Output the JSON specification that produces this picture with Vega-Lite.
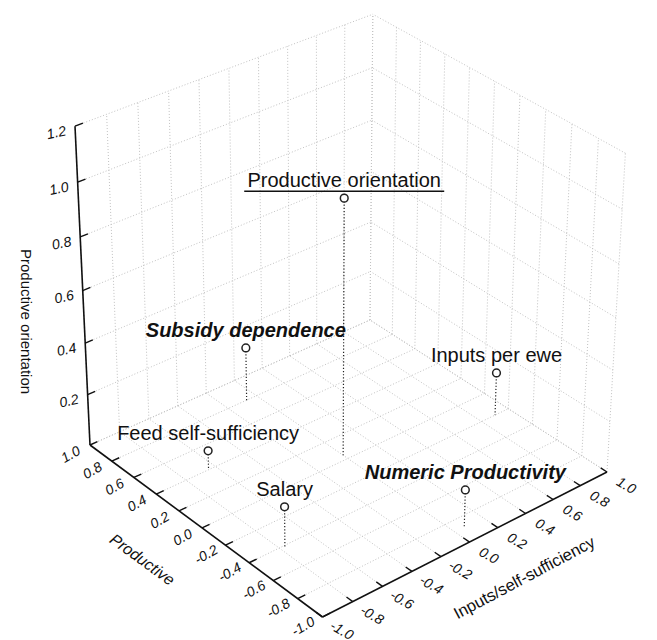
{
"$schema": "https://vega.github.io/schema/vega-lite/v6.json",
"width": 657, "height": 640, "autosize": {"type": "none"}, "padding": 0,
"background": "white",
"config": {"view": {"stroke": null}, "text": {"font": "Liberation Sans"}},
"datasets": {
 "ticks": [{"v":-1},{"v":-0.8},{"v":-0.6},{"v":-0.4},{"v":-0.2},{"v":0},{"v":0.2},{"v":0.4},{"v":0.6},{"v":0.8},{"v":1}],
 "zticks": [{"v":0},{"v":0.2},{"v":0.4},{"v":0.6},{"v":0.8},{"v":1.0},{"v":1.2}],
 "points": [
  {"name":"Productive orientation","X":0.0,"Y":0.04,"Z":0.98,"kind":"main"},
  {"name":"Subsidy dependence","X":-0.07,"Y":0.80,"Z":0.21,"kind":"factor"},
  {"name":"Inputs per ewe","X":0.90,"Y":-0.20,"Z":0.17,"kind":"variable"},
  {"name":"Feed self-sufficiency","X":-0.64,"Y":0.41,"Z":0.07,"kind":"variable"},
  {"name":"Salary","X":-0.77,"Y":-0.41,"Z":0.155,"kind":"variable"},
  {"name":"Numeric Productivity","X":0.06,"Y":-0.89,"Z":0.15,"kind":"factor"}
 ]
},
"encoding": {
 "x": {"field":"px","type":"quantitative","scale":{"domain":[0,657],"nice":false,"zero":false},"axis":null},
 "y": {"field":"py","type":"quantitative","scale":{"domain":[640,0],"nice":false,"zero":false},"axis":null}
},
"layer": [
 {"data":{"name":"ticks"},
  "transform":[{"calculate":"datum.v","as":"X1"},{"calculate":"-1","as":"Y1"},{"calculate":"0","as":"Z1"},{"calculate":"datum.v","as":"X2"},{"calculate":"1","as":"Y2"},{"calculate":"0","as":"Z2"},
   {"calculate":"(373.06+163.43*datum.X1-112.87*datum.Y1-17.5*datum.Z1)/(1.072465+0.034895*datum.X1+0.03757*datum.Y1-0.0542*datum.Z1)","as":"px"},
   {"calculate":"(491.69-56.03*datum.X1-69.28*datum.Y1-292.5*datum.Z1)/(1.072465+0.034895*datum.X1+0.03757*datum.Y1-0.0542*datum.Z1)","as":"py"},
   {"calculate":"(373.06+163.43*datum.X2-112.87*datum.Y2-17.5*datum.Z2)/(1.072465+0.034895*datum.X2+0.03757*datum.Y2-0.0542*datum.Z2)","as":"px2"},
   {"calculate":"(491.69-56.03*datum.X2-69.28*datum.Y2-292.5*datum.Z2)/(1.072465+0.034895*datum.X2+0.03757*datum.Y2-0.0542*datum.Z2)","as":"py2"}],
  "mark":{"type":"rule","color":"#c2c2c2","strokeWidth":1,"strokeDash":[1,2]},
  "encoding":{"x2":{"field":"px2"},"y2":{"field":"py2"}}},
 {"data":{"name":"ticks"},
  "transform":[{"calculate":"-1","as":"X1"},{"calculate":"datum.v","as":"Y1"},{"calculate":"0","as":"Z1"},{"calculate":"1","as":"X2"},{"calculate":"datum.v","as":"Y2"},{"calculate":"0","as":"Z2"},
   {"calculate":"(373.06+163.43*datum.X1-112.87*datum.Y1-17.5*datum.Z1)/(1.072465+0.034895*datum.X1+0.03757*datum.Y1-0.0542*datum.Z1)","as":"px"},
   {"calculate":"(491.69-56.03*datum.X1-69.28*datum.Y1-292.5*datum.Z1)/(1.072465+0.034895*datum.X1+0.03757*datum.Y1-0.0542*datum.Z1)","as":"py"},
   {"calculate":"(373.06+163.43*datum.X2-112.87*datum.Y2-17.5*datum.Z2)/(1.072465+0.034895*datum.X2+0.03757*datum.Y2-0.0542*datum.Z2)","as":"px2"},
   {"calculate":"(491.69-56.03*datum.X2-69.28*datum.Y2-292.5*datum.Z2)/(1.072465+0.034895*datum.X2+0.03757*datum.Y2-0.0542*datum.Z2)","as":"py2"}],
  "mark":{"type":"rule","color":"#c2c2c2","strokeWidth":1,"strokeDash":[1,2]},
  "encoding":{"x2":{"field":"px2"},"y2":{"field":"py2"}}},
 {"data":{"name":"ticks"},
  "transform":[{"calculate":"1","as":"X1"},{"calculate":"datum.v","as":"Y1"},{"calculate":"0","as":"Z1"},{"calculate":"1","as":"X2"},{"calculate":"datum.v","as":"Y2"},{"calculate":"1.2","as":"Z2"},
   {"calculate":"(373.06+163.43*datum.X1-112.87*datum.Y1-17.5*datum.Z1)/(1.072465+0.034895*datum.X1+0.03757*datum.Y1-0.0542*datum.Z1)","as":"px"},
   {"calculate":"(491.69-56.03*datum.X1-69.28*datum.Y1-292.5*datum.Z1)/(1.072465+0.034895*datum.X1+0.03757*datum.Y1-0.0542*datum.Z1)","as":"py"},
   {"calculate":"(373.06+163.43*datum.X2-112.87*datum.Y2-17.5*datum.Z2)/(1.072465+0.034895*datum.X2+0.03757*datum.Y2-0.0542*datum.Z2)","as":"px2"},
   {"calculate":"(491.69-56.03*datum.X2-69.28*datum.Y2-292.5*datum.Z2)/(1.072465+0.034895*datum.X2+0.03757*datum.Y2-0.0542*datum.Z2)","as":"py2"}],
  "mark":{"type":"rule","color":"#c2c2c2","strokeWidth":1,"strokeDash":[1,2]},
  "encoding":{"x2":{"field":"px2"},"y2":{"field":"py2"}}},
 {"data":{"name":"ticks"},
  "transform":[{"calculate":"datum.v","as":"X1"},{"calculate":"1","as":"Y1"},{"calculate":"0","as":"Z1"},{"calculate":"datum.v","as":"X2"},{"calculate":"1","as":"Y2"},{"calculate":"1.2","as":"Z2"},
   {"calculate":"(373.06+163.43*datum.X1-112.87*datum.Y1-17.5*datum.Z1)/(1.072465+0.034895*datum.X1+0.03757*datum.Y1-0.0542*datum.Z1)","as":"px"},
   {"calculate":"(491.69-56.03*datum.X1-69.28*datum.Y1-292.5*datum.Z1)/(1.072465+0.034895*datum.X1+0.03757*datum.Y1-0.0542*datum.Z1)","as":"py"},
   {"calculate":"(373.06+163.43*datum.X2-112.87*datum.Y2-17.5*datum.Z2)/(1.072465+0.034895*datum.X2+0.03757*datum.Y2-0.0542*datum.Z2)","as":"px2"},
   {"calculate":"(491.69-56.03*datum.X2-69.28*datum.Y2-292.5*datum.Z2)/(1.072465+0.034895*datum.X2+0.03757*datum.Y2-0.0542*datum.Z2)","as":"py2"}],
  "mark":{"type":"rule","color":"#c2c2c2","strokeWidth":1,"strokeDash":[1,2]},
  "encoding":{"x2":{"field":"px2"},"y2":{"field":"py2"}}},
 {"data":{"name":"zticks"},
  "transform":[{"calculate":"1","as":"X1"},{"calculate":"-1","as":"Y1"},{"calculate":"datum.v","as":"Z1"},{"calculate":"1","as":"X2"},{"calculate":"1","as":"Y2"},{"calculate":"datum.v","as":"Z2"},
   {"calculate":"(373.06+163.43*datum.X1-112.87*datum.Y1-17.5*datum.Z1)/(1.072465+0.034895*datum.X1+0.03757*datum.Y1-0.0542*datum.Z1)","as":"px"},
   {"calculate":"(491.69-56.03*datum.X1-69.28*datum.Y1-292.5*datum.Z1)/(1.072465+0.034895*datum.X1+0.03757*datum.Y1-0.0542*datum.Z1)","as":"py"},
   {"calculate":"(373.06+163.43*datum.X2-112.87*datum.Y2-17.5*datum.Z2)/(1.072465+0.034895*datum.X2+0.03757*datum.Y2-0.0542*datum.Z2)","as":"px2"},
   {"calculate":"(491.69-56.03*datum.X2-69.28*datum.Y2-292.5*datum.Z2)/(1.072465+0.034895*datum.X2+0.03757*datum.Y2-0.0542*datum.Z2)","as":"py2"}],
  "mark":{"type":"rule","color":"#c2c2c2","strokeWidth":1,"strokeDash":[1,2]},
  "encoding":{"x2":{"field":"px2"},"y2":{"field":"py2"}}},
 {"data":{"name":"zticks"},
  "transform":[{"calculate":"-1","as":"X1"},{"calculate":"1","as":"Y1"},{"calculate":"datum.v","as":"Z1"},{"calculate":"1","as":"X2"},{"calculate":"1","as":"Y2"},{"calculate":"datum.v","as":"Z2"},
   {"calculate":"(373.06+163.43*datum.X1-112.87*datum.Y1-17.5*datum.Z1)/(1.072465+0.034895*datum.X1+0.03757*datum.Y1-0.0542*datum.Z1)","as":"px"},
   {"calculate":"(491.69-56.03*datum.X1-69.28*datum.Y1-292.5*datum.Z1)/(1.072465+0.034895*datum.X1+0.03757*datum.Y1-0.0542*datum.Z1)","as":"py"},
   {"calculate":"(373.06+163.43*datum.X2-112.87*datum.Y2-17.5*datum.Z2)/(1.072465+0.034895*datum.X2+0.03757*datum.Y2-0.0542*datum.Z2)","as":"px2"},
   {"calculate":"(491.69-56.03*datum.X2-69.28*datum.Y2-292.5*datum.Z2)/(1.072465+0.034895*datum.X2+0.03757*datum.Y2-0.0542*datum.Z2)","as":"py2"}],
  "mark":{"type":"rule","color":"#c2c2c2","strokeWidth":1,"strokeDash":[1,2]},
  "encoding":{"x2":{"field":"px2"},"y2":{"field":"py2"}}},
 {"data":{"values":[{"a":"z"},{"a":"p"},{"a":"i"}]},
  "transform":[{"calculate":"-1","as":"X1"},{"calculate":"datum.a=='z' ? 1 : -1","as":"Y1"},{"calculate":"0","as":"Z1"},{"calculate":"datum.a=='i' ? 1 : -1","as":"X2"},{"calculate":"datum.a=='i' ? -1 : 1","as":"Y2"},{"calculate":"datum.a=='z' ? 1.2 : 0","as":"Z2"},
   {"calculate":"(373.06+163.43*datum.X1-112.87*datum.Y1-17.5*datum.Z1)/(1.072465+0.034895*datum.X1+0.03757*datum.Y1-0.0542*datum.Z1)","as":"px"},
   {"calculate":"(491.69-56.03*datum.X1-69.28*datum.Y1-292.5*datum.Z1)/(1.072465+0.034895*datum.X1+0.03757*datum.Y1-0.0542*datum.Z1)","as":"py"},
   {"calculate":"(373.06+163.43*datum.X2-112.87*datum.Y2-17.5*datum.Z2)/(1.072465+0.034895*datum.X2+0.03757*datum.Y2-0.0542*datum.Z2)","as":"px2"},
   {"calculate":"(491.69-56.03*datum.X2-69.28*datum.Y2-292.5*datum.Z2)/(1.072465+0.034895*datum.X2+0.03757*datum.Y2-0.0542*datum.Z2)","as":"py2"}],
  "mark":{"type":"rule","color":"#111111","strokeWidth":1.6},
  "encoding":{"x2":{"field":"px2"},"y2":{"field":"py2"}}},
 {"data":{"name":"zticks"},
  "transform":[{"filter":"datum.v>0"},{"calculate":"-1","as":"X1"},{"calculate":"1","as":"Y1"},{"calculate":"datum.v","as":"Z1"},{"calculate":"-0.95","as":"X2"},{"calculate":"1","as":"Y2"},{"calculate":"datum.v","as":"Z2"},
   {"calculate":"(373.06+163.43*datum.X1-112.87*datum.Y1-17.5*datum.Z1)/(1.072465+0.034895*datum.X1+0.03757*datum.Y1-0.0542*datum.Z1)","as":"px"},
   {"calculate":"(491.69-56.03*datum.X1-69.28*datum.Y1-292.5*datum.Z1)/(1.072465+0.034895*datum.X1+0.03757*datum.Y1-0.0542*datum.Z1)","as":"py"},
   {"calculate":"(373.06+163.43*datum.X2-112.87*datum.Y2-17.5*datum.Z2)/(1.072465+0.034895*datum.X2+0.03757*datum.Y2-0.0542*datum.Z2)","as":"px2"},
   {"calculate":"(491.69-56.03*datum.X2-69.28*datum.Y2-292.5*datum.Z2)/(1.072465+0.034895*datum.X2+0.03757*datum.Y2-0.0542*datum.Z2)","as":"py2"}],
  "mark":{"type":"rule","color":"#111111","strokeWidth":1.4},
  "encoding":{"x2":{"field":"px2"},"y2":{"field":"py2"}}},
 {"data":{"name":"ticks"},
  "transform":[{"calculate":"-1","as":"X1"},{"calculate":"datum.v","as":"Y1"},{"calculate":"0","as":"Z1"},{"calculate":"-0.95","as":"X2"},{"calculate":"datum.v","as":"Y2"},{"calculate":"0","as":"Z2"},
   {"calculate":"(373.06+163.43*datum.X1-112.87*datum.Y1-17.5*datum.Z1)/(1.072465+0.034895*datum.X1+0.03757*datum.Y1-0.0542*datum.Z1)","as":"px"},
   {"calculate":"(491.69-56.03*datum.X1-69.28*datum.Y1-292.5*datum.Z1)/(1.072465+0.034895*datum.X1+0.03757*datum.Y1-0.0542*datum.Z1)","as":"py"},
   {"calculate":"(373.06+163.43*datum.X2-112.87*datum.Y2-17.5*datum.Z2)/(1.072465+0.034895*datum.X2+0.03757*datum.Y2-0.0542*datum.Z2)","as":"px2"},
   {"calculate":"(491.69-56.03*datum.X2-69.28*datum.Y2-292.5*datum.Z2)/(1.072465+0.034895*datum.X2+0.03757*datum.Y2-0.0542*datum.Z2)","as":"py2"}],
  "mark":{"type":"rule","color":"#111111","strokeWidth":1.4},
  "encoding":{"x2":{"field":"px2"},"y2":{"field":"py2"}}},
 {"data":{"name":"ticks"},
  "transform":[{"calculate":"datum.v","as":"X1"},{"calculate":"-1","as":"Y1"},{"calculate":"0","as":"Z1"},{"calculate":"datum.v","as":"X2"},{"calculate":"-0.95","as":"Y2"},{"calculate":"0","as":"Z2"},
   {"calculate":"(373.06+163.43*datum.X1-112.87*datum.Y1-17.5*datum.Z1)/(1.072465+0.034895*datum.X1+0.03757*datum.Y1-0.0542*datum.Z1)","as":"px"},
   {"calculate":"(491.69-56.03*datum.X1-69.28*datum.Y1-292.5*datum.Z1)/(1.072465+0.034895*datum.X1+0.03757*datum.Y1-0.0542*datum.Z1)","as":"py"},
   {"calculate":"(373.06+163.43*datum.X2-112.87*datum.Y2-17.5*datum.Z2)/(1.072465+0.034895*datum.X2+0.03757*datum.Y2-0.0542*datum.Z2)","as":"px2"},
   {"calculate":"(491.69-56.03*datum.X2-69.28*datum.Y2-292.5*datum.Z2)/(1.072465+0.034895*datum.X2+0.03757*datum.Y2-0.0542*datum.Z2)","as":"py2"}],
  "mark":{"type":"rule","color":"#111111","strokeWidth":1.4},
  "encoding":{"x2":{"field":"px2"},"y2":{"field":"py2"}}},
 {"data":{"name":"zticks"},
  "transform":[{"filter":"datum.v>0"},{"calculate":"-1","as":"X1"},{"calculate":"1","as":"Y1"},{"calculate":"datum.v","as":"Z1"},
   {"calculate":"(373.06+163.43*datum.X1-112.87*datum.Y1-17.5*datum.Z1)/(1.072465+0.034895*datum.X1+0.03757*datum.Y1-0.0542*datum.Z1)","as":"px"},
   {"calculate":"(491.69-56.03*datum.X1-69.28*datum.Y1-292.5*datum.Z1)/(1.072465+0.034895*datum.X1+0.03757*datum.Y1-0.0542*datum.Z1)","as":"py"},
   {"calculate":"replace(format(datum.v,'.1f'),'−','-')","as":"lab"}],
  "mark":{"type":"text","fontSize":14,"fontStyle":"italic","align":"right","baseline":"middle","xOffset":-9,"yOffset":5,"angle":-12,"color":"#111111"},
  "encoding":{"text":{"field":"lab"}}},
 {"data":{"name":"ticks"},
  "transform":[{"calculate":"-1","as":"X1"},{"calculate":"datum.v","as":"Y1"},{"calculate":"0","as":"Z1"},
   {"calculate":"(373.06+163.43*datum.X1-112.87*datum.Y1-17.5*datum.Z1)/(1.072465+0.034895*datum.X1+0.03757*datum.Y1-0.0542*datum.Z1)","as":"px"},
   {"calculate":"(491.69-56.03*datum.X1-69.28*datum.Y1-292.5*datum.Z1)/(1.072465+0.034895*datum.X1+0.03757*datum.Y1-0.0542*datum.Z1)","as":"py"},
   {"calculate":"replace(format(datum.v,'.1f'),'−','-')","as":"lab"}],
  "mark":{"type":"text","fontSize":14,"fontStyle":"italic","align":"center","baseline":"middle","xOffset":-19,"yOffset":10,"angle":-30,"color":"#111111"},
  "encoding":{"text":{"field":"lab"}}},
 {"data":{"name":"ticks"},
  "transform":[{"calculate":"datum.v","as":"X1"},{"calculate":"-1","as":"Y1"},{"calculate":"0","as":"Z1"},
   {"calculate":"(373.06+163.43*datum.X1-112.87*datum.Y1-17.5*datum.Z1)/(1.072465+0.034895*datum.X1+0.03757*datum.Y1-0.0542*datum.Z1)","as":"px"},
   {"calculate":"(491.69-56.03*datum.X1-69.28*datum.Y1-292.5*datum.Z1)/(1.072465+0.034895*datum.X1+0.03757*datum.Y1-0.0542*datum.Z1)","as":"py"},
   {"calculate":"replace(format(datum.v,'.1f'),'−','-')","as":"lab"}],
  "mark":{"type":"text","fontSize":14,"fontStyle":"italic","align":"center","baseline":"middle","xOffset":19,"yOffset":14,"angle":30,"color":"#111111"},
  "encoding":{"text":{"field":"lab"}}},
 {"data":{"values":[{"t":"Productive","X1":-1,"Y1":0,"Z1":0}]},
  "transform":[
   {"calculate":"(373.06+163.43*datum.X1-112.87*datum.Y1-17.5*datum.Z1)/(1.072465+0.034895*datum.X1+0.03757*datum.Y1-0.0542*datum.Z1)","as":"px"},
   {"calculate":"(491.69-56.03*datum.X1-69.28*datum.Y1-292.5*datum.Z1)/(1.072465+0.034895*datum.X1+0.03757*datum.Y1-0.0542*datum.Z1)","as":"py"}],
  "mark":{"type":"text","fontSize":16,"fontStyle":"italic","align":"center","baseline":"middle","xOffset":-60,"yOffset":32,"angle":36,"color":"#111111"},
  "encoding":{"text":{"field":"t"}}},
 {"data":{"values":[{"t":"Inputs/self-sufficiency","X1":0,"Y1":-1,"Z1":0}]},
  "transform":[
   {"calculate":"(373.06+163.43*datum.X1-112.87*datum.Y1-17.5*datum.Z1)/(1.072465+0.034895*datum.X1+0.03757*datum.Y1-0.0542*datum.Z1)","as":"px"},
   {"calculate":"(491.69-56.03*datum.X1-69.28*datum.Y1-292.5*datum.Z1)/(1.072465+0.034895*datum.X1+0.03757*datum.Y1-0.0542*datum.Z1)","as":"py"}],
  "mark":{"type":"text","fontSize":16.5,"align":"center","baseline":"middle","xOffset":55,"yOffset":36,"angle":-28,"color":"#111111"},
  "encoding":{"text":{"field":"t"}}},
 {"data":{"values":[{"t":"Productive orientation","X1":-1,"Y1":1,"Z1":0.6}]},
  "transform":[
   {"calculate":"(373.06+163.43*datum.X1-112.87*datum.Y1-17.5*datum.Z1)/(1.072465+0.034895*datum.X1+0.03757*datum.Y1-0.0542*datum.Z1)","as":"px"},
   {"calculate":"(491.69-56.03*datum.X1-69.28*datum.Y1-292.5*datum.Z1)/(1.072465+0.034895*datum.X1+0.03757*datum.Y1-0.0542*datum.Z1)","as":"py"}],
  "mark":{"type":"text","fontSize":15,"align":"center","baseline":"middle","xOffset":-57,"yOffset":31,"angle":90,"color":"#111111"},
  "encoding":{"text":{"field":"t"}}},
 {"data":{"name":"points"},
  "transform":[{"calculate":"datum.X","as":"X1"},{"calculate":"datum.Y","as":"Y1"},{"calculate":"datum.Z","as":"Z1"},{"calculate":"datum.X","as":"X2"},{"calculate":"datum.Y","as":"Y2"},{"calculate":"0","as":"Z2"},
   {"calculate":"(373.06+163.43*datum.X1-112.87*datum.Y1-17.5*datum.Z1)/(1.072465+0.034895*datum.X1+0.03757*datum.Y1-0.0542*datum.Z1)","as":"px"},
   {"calculate":"(491.69-56.03*datum.X1-69.28*datum.Y1-292.5*datum.Z1)/(1.072465+0.034895*datum.X1+0.03757*datum.Y1-0.0542*datum.Z1)","as":"py"},
   {"calculate":"(373.06+163.43*datum.X2-112.87*datum.Y2-17.5*datum.Z2)/(1.072465+0.034895*datum.X2+0.03757*datum.Y2-0.0542*datum.Z2)","as":"px2"},
   {"calculate":"(491.69-56.03*datum.X2-69.28*datum.Y2-292.5*datum.Z2)/(1.072465+0.034895*datum.X2+0.03757*datum.Y2-0.0542*datum.Z2)","as":"py2"}],
  "mark":{"type":"rule","color":"#222222","strokeWidth":1.2,"strokeDash":[1.2,2]},
  "encoding":{"x2":{"field":"px2"},"y2":{"field":"py2"}}},
 {"data":{"name":"points"},
  "transform":[{"calculate":"datum.X","as":"X1"},{"calculate":"datum.Y","as":"Y1"},{"calculate":"datum.Z","as":"Z1"},
   {"calculate":"(373.06+163.43*datum.X1-112.87*datum.Y1-17.5*datum.Z1)/(1.072465+0.034895*datum.X1+0.03757*datum.Y1-0.0542*datum.Z1)","as":"px"},
   {"calculate":"(491.69-56.03*datum.X1-69.28*datum.Y1-292.5*datum.Z1)/(1.072465+0.034895*datum.X1+0.03757*datum.Y1-0.0542*datum.Z1)","as":"py"}],
  "layer":[
   {"mark":{"type":"point","shape":"circle","filled":true,"fill":"white","stroke":"#222222","strokeWidth":1.5,"size":60,"opacity":1}},
   {"transform":[{"filter":"datum.kind!='factor'"}],
    "mark":{"type":"text","fontSize":20,"align":"center","baseline":"alphabetic","yOffset":-11,"color":"#111111"},
    "encoding":{"text":{"field":"name"}}},
   {"transform":[{"filter":"datum.kind=='factor'"}],
    "mark":{"type":"text","fontSize":20,"fontWeight":"bold","fontStyle":"italic","align":"center","baseline":"alphabetic","yOffset":-11,"color":"#111111"},
    "encoding":{"text":{"field":"name"}}},
   {"transform":[{"filter":"datum.kind=='main'"}],
    "mark":{"type":"rule","color":"#111111","strokeWidth":1.5,"xOffset":-100,"x2Offset":100,"yOffset":-7,"y2Offset":-7},
    "encoding":{"x2":{"field":"px"},"y2":{"field":"py"}}}
  ]}
]
}
